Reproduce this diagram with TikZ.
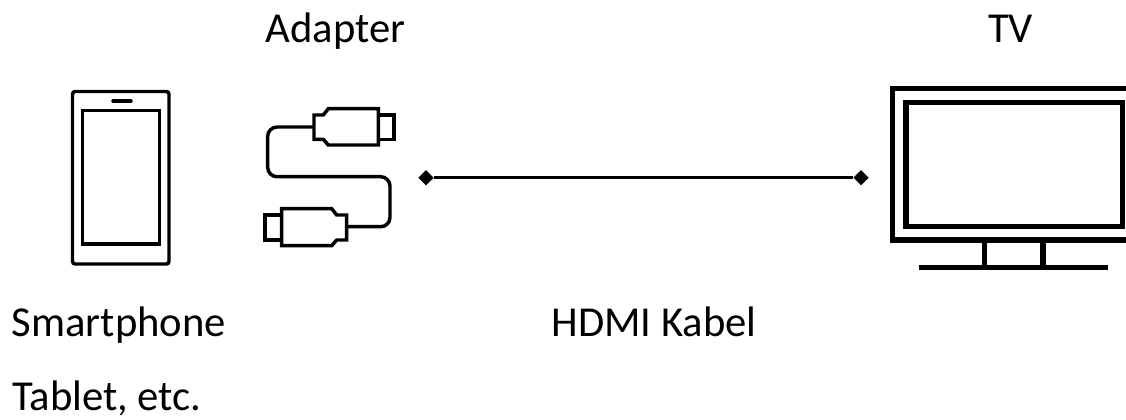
\documentclass[tikz,border=0pt]{standalone}
\usepackage{fontspec}
\setmainfont{Carlito}
\usetikzlibrary{shapes.geometric}

\tikzset{%
  every label text/.style={
    font=\fontsize{32}{38}\selectfont,
    inner sep=0pt
  },
  every icon/.style={
    draw=black,
    line width=2.6pt,
    line join=miter
  },
  tv icon/.style={
    every icon,
    line width=3.8pt
  },
  cable end/.style={
    diamond,
    fill=black,
    inner sep=0pt,
    minimum size=11.5pt
  },
}

\begin{document}
\begin{tikzpicture}[x=0.75pt, y=-0.75pt]

\useasboundingbox (0,0) rectangle (1126,419);
\clip (0,0) rectangle (1126,419);

% phone
\draw [every icon, rounded corners=2pt] (72.5,91.5) rectangle (169,264);
\draw [every icon] (82.5,110.5) rectangle (159.5,244);
\draw [every icon, line cap=round] (113,101) -- (131,101);

% adapter
\draw [every icon] (314,115) -- (323.3,115) -- (328.3,108.7) -- (378.3,108.7)
  -- (378.3,145) -- (328.3,145) -- (323.3,139.3) -- (314,139.3) -- cycle;
\draw [every icon] (378.3,115) -- (394,115) -- (394,139.3) -- (378.3,139.3);
\draw [every icon] (346.7,215) -- (336.7,215) -- (331.7,208.7) -- (281.7,208.7)
  -- (281.7,245.7) -- (331.7,245.7) -- (336.7,240) -- (346.7,240) -- cycle;
\draw [every icon] (281.7,215) -- (265,215) -- (265,240) -- (281.7,240);
\draw [every icon, rounded corners=7pt] (314,127) -- (267.7,127) -- (267.7,176.7)
  -- (390,176.7) -- (390,226.7) -- (346.7,226.7);

% tv
\draw [tv icon] (892.3,88.3) -- (1140,88.3) -- (1140,240) -- (892.3,240) -- cycle;
\draw [tv icon] (906,102.3) rectangle (1122.7,226.7);
\foreach \x in {984.3,1043}
  \draw [tv icon] (\x,240) -- (\x,266);
\draw [tv icon] (919.3,267.3) -- (1108.3,267.3);

% cable
\node [cable end] (left-end) at (426,177.7) {};
\node [cable end] (right-end) at (861,177.7) {};
\draw [line width=1.9pt] (left-end) -- (right-end);

% labels
\node [every label text, anchor=base] (adapter) at (335.5,42.7) {Adapter};
\node [every label text, anchor=base] (tv) at (1010.5,42.7) {TV};
\node [every label text, anchor=base west] (smartphone) at (11.5,336.7) {Smartphone};
\node [every label text, anchor=base] (hdmi) at (654,336.7) {HDMI Kabel};
\node [every label text, anchor=base west] (tablet) at (12,410.5) {Tablet, etc.};

\end{tikzpicture}
\end{document}
